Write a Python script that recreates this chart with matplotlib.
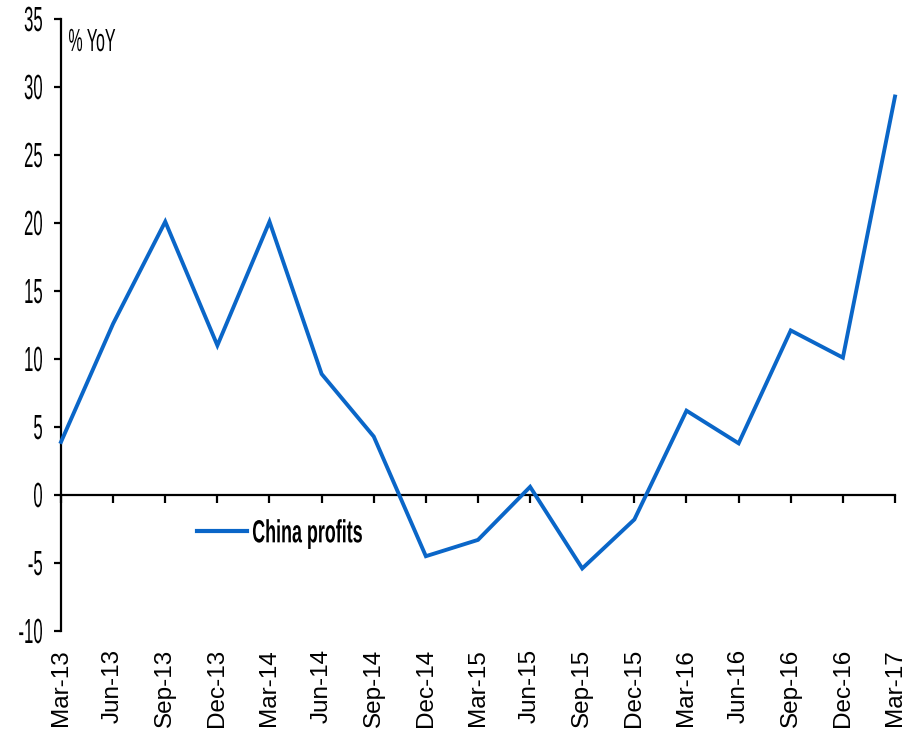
import numpy as np
import matplotlib
matplotlib.use('Agg')
import matplotlib.pyplot as plt
from matplotlib.font_manager import FontProperties
from matplotlib.patches import PathPatch
from matplotlib.textpath import TextPath
from matplotlib.transforms import Affine2D

quarters = ['Mar-13', 'Jun-13', 'Sep-13', 'Dec-13', 'Mar-14', 'Jun-14',
            'Sep-14', 'Dec-14', 'Mar-15', 'Jun-15', 'Sep-15', 'Dec-15',
            'Mar-16', 'Jun-16', 'Sep-16', 'Dec-16', 'Mar-17']
profits_yoy = [3.9, 12.6, 20.1, 11.0, 20.1, 8.9, 4.3, -4.5, -3.3, 0.6,
               -5.4, -1.8, 6.2, 3.8, 12.1, 10.1, 29.3]
y_ticks = [-10, -5, 0, 5, 10, 15, 20, 25, 30, 35]

BLUE = '#0a66c8'
W, H, DPI = 903, 729, 100

fig = plt.figure(figsize=(W / DPI, H / DPI), dpi=DPI)
ax = fig.add_axes([61 / W, 1 - 631 / H, 834 / W, 612 / H])


def narrow_text(s, x, y, cap_px, squeeze, ha='left', va='center',
                weight='normal'):
    """Condensed text drawn as a path, x/y in display pixels."""
    fp = FontProperties(family='Liberation Sans', weight=weight)
    path = TextPath((0, 0), s, size=100, prop=fp)
    cap = TextPath((0, 0), 'H', size=100, prop=fp).get_extents()
    sy = cap_px / cap.height
    sx = sy * squeeze
    bb = path.get_extents()
    dx = {'left': -bb.x0, 'right': -bb.x1,
          'center': -(bb.x0 + bb.x1) / 2}[ha] * sx
    dy = {'center': -cap.y1 / 2, 'top': -cap.y1, 'baseline': 0}[va] * sy
    tr = Affine2D().scale(sx, sy).translate(x + dx, y + dy)
    fig.add_artist(PathPatch(path, transform=tr, facecolor='black',
                             edgecolor='none', lw=0))


x = np.arange(len(quarters))
ax.plot(x, profits_yoy, color=BLUE, lw=2.8, label='China profits',
        solid_joinstyle='miter', clip_on=False, zorder=3)

ax.set_xlim(0, len(quarters) - 1)
ax.set_ylim(-10, 35)

# spines: y axis on the left, x axis running through zero
for side in ['top', 'right']:
    ax.spines[side].set_visible(False)
ax.spines['left'].set_linewidth(1.6)
ax.spines['bottom'].set_position(('data', 0))
ax.spines['bottom'].set_linewidth(1.6)

ax.set_yticks(y_ticks)
ax.tick_params(axis='y', direction='out', length=5, width=1.6,
               labelleft=False)
ax.set_xticks(x)
ax.tick_params(axis='x', direction='out', length=6, width=1.6,
               labelbottom=False)

# quarter labels sit below the plot area, not on the zero line
lab = ax.secondary_xaxis('bottom')
lab.set_xticks(x)
lab.set_xticklabels(quarters, rotation=90, family='Liberation Sans',
                    fontsize=17.5)
lab.tick_params(length=0, pad=13)
lab.spines['bottom'].set_visible(False)

leg = ax.legend(loc='center left', bbox_to_anchor=(0.163, 0.16),
                frameon=False, handlelength=2.0, handletextpad=0.3,
                borderpad=0, borderaxespad=0,
                prop={'family': 'Liberation Sans', 'size': 18})
leg.get_lines()[0].set_linewidth(3.0)

fig.canvas.draw()

# y tick labels in a tall condensed face
x_left = ax.transAxes.transform((0, 0))[0]
for v in y_ticks:
    y_disp = ax.transData.transform((0, v))[1]
    narrow_text(str(v), x_left - 19, y_disp, 24, 0.48, ha='right')

# unit label in the top-left corner
top = ax.transAxes.transform((0, 1))[1]
narrow_text('% YoY', x_left + 8, top - 10, 22, 0.5, va='top')

# legend text drawn condensed beside the handle
handle_box = leg.get_lines()[0].get_window_extent(fig.canvas.get_renderer())
leg.get_texts()[0].set_visible(False)
narrow_text('China profits', handle_box.x1 + 6,
            (handle_box.y0 + handle_box.y1) / 2, 22, 0.56, weight='bold')

fig.savefig('out.png', dpi=DPI, facecolor='white')
